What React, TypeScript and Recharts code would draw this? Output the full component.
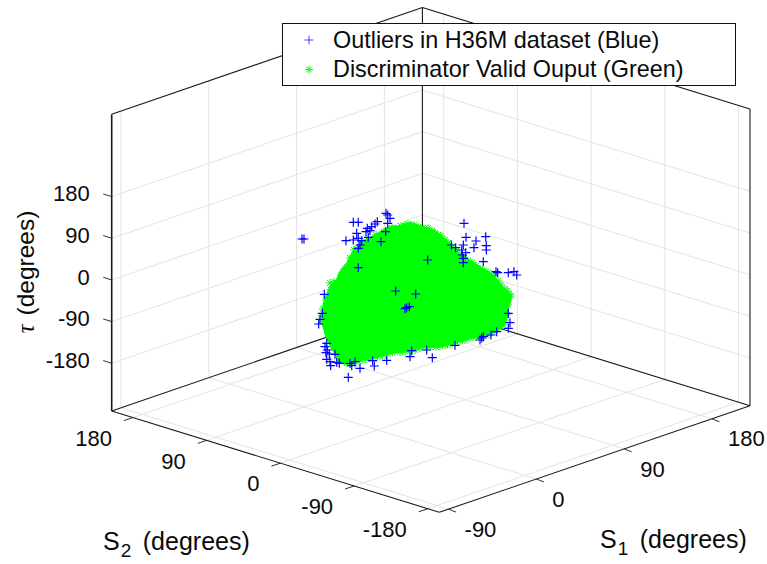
import React from 'react';
import { ComposedChart, Area, Line, Scatter, XAxis, YAxis, ReferenceDot, Legend } from 'recharts';

const WIDTH = 767;
const HEIGHT = 564;

// axis limits and ticks of the 3D box (degrees)
const s1Limits = [-99.5, 219];
const s2Limits = [-194, 206];
const tauLimits = [-283, 358];
const s1Ticks = [-90, 0, 90, 180];
const s2Ticks = [-180, -90, 0, 90, 180];
const tauTicks = [-180, -90, 0, 90, 180];

// the marks can only be read in the plane of the view, so they are kept as [across, down]
const outliers: number[][] = [
    [302, 239], [304, 239], [353.3, 222.3], [358.3, 222.3], [386, 213.3], [387.7, 215], [390, 218.3], [387.7, 223.3],
    [377.3, 221.7], [375, 224], [367.3, 228.3], [371.7, 226.7], [370, 230.7], [366, 231.7], [385.7, 231.7], [356.7, 233.3],
    [346, 240.7], [353.3, 240], [358.3, 238.3], [361.7, 240.7], [360, 245], [358.3, 248.3], [368.3, 237.3], [381, 241.7],
    [358.3, 267.7], [464, 223.3], [466, 237.3], [485.7, 236.7], [476, 241], [474, 247.7], [486.3, 245.7], [486.3, 250],
    [451.3, 245], [455.7, 247.7], [463.3, 245], [461.7, 250], [465.7, 252.7], [462.3, 255], [463.3, 258.3], [463.3, 262.7],
    [483.3, 261.7], [496, 271.7], [497.7, 272.7], [508.3, 272.7], [514, 271.7], [516.7, 275], [427.7, 260], [395.7, 291],
    [415.7, 294], [406.7, 307.7], [409.3, 306.7], [405, 308.7], [324.3, 294.3], [322.3, 313.3], [320, 319.3], [318.7, 324],
    [326.7, 343.3], [325, 346.7], [327.3, 350], [326, 352.7], [329.3, 354], [335, 354.3], [326.7, 359.3], [330, 361.7],
    [336.7, 362.3], [330.7, 365.7], [339.3, 363.3], [350, 363.3], [355, 361.7], [351.7, 365.7], [360, 368.3], [348.3, 377.3],
    [372.7, 360.7], [374.3, 366], [386.7, 360.3], [411.7, 350.7], [410, 356.7], [426.7, 350], [432.3, 357.7], [455, 345.3],
    [480, 340], [483.3, 336.7], [481.7, 338], [491, 335], [496.7, 331.7], [508.3, 328.3], [510, 322.7], [508.3, 313.3],
];

// body of the green cloud: [across, upper edge, lower edge]
const cloudBody: number[][] = [
    [322, 307, 325], [325, 297, 336], [330, 285, 347], [335, 281, 355], [340, 271, 363], [346, 263, 365], [352, 252, 364],
    [360, 243, 361], [370, 237, 360], [380, 231, 357], [390, 226, 354], [400, 225, 353], [410, 222, 352], [423, 226, 348],
    [435, 230, 348], [447, 240, 346], [460, 253, 342], [475, 263, 338], [487, 270, 336], [497, 280, 332], [505, 288, 325],
    [510, 293, 305], [512, 296, 298],
];

// green stars that make the rough rim of the cloud
const cloudRim: number[][] = [
    [323, 309], [322, 316], [323, 322], [326, 300], [328, 333], [331, 290], [333, 343], [337, 283], [338, 352], [341, 275],
    [344, 361], [345, 268], [350, 362], [350, 258], [358, 361], [357, 249], [366, 359], [364, 243], [375, 357], [372, 240],
    [385, 355], [380, 236], [395, 352], [388, 231], [405, 351], [397, 229], [415, 350], [405, 226], [425, 347], [411, 225],
    [436, 347], [418, 227], [445, 345], [424, 229], [455, 342], [432, 231], [465, 340], [438, 235], [476, 337], [445, 240],
    [486, 335], [452, 247], [495, 330], [460, 255], [503, 325], [468, 261], [507, 315], [476, 266], [508, 305], [484, 271],
    [492, 275], [498, 281], [505, 289], [509, 294], [330, 283], [334, 282], [343, 272], [354, 250], [361, 244], [368, 240],
    [376, 235], [384, 232], [392, 228], [401, 226], [408, 224], [414, 225], [421, 228], [428, 228], [435, 233], [441, 236],
    [448, 243], [456, 251], [464, 258], [472, 263], [480, 269], [488, 273], [494, 276], [501, 285], [507, 291], [511, 296],
    [340, 360], [347, 363], [354, 361], [362, 360], [370, 358], [380, 356], [390, 353], [400, 352], [410, 351], [420, 348],
    [430, 347], [440, 346], [450, 344], [460, 341], [470, 338], [481, 336], [490, 333], [499, 327], [505, 320],
];

const legendLabels = ['Outliers in H36M dataset (Blue)', 'Discriminator Valid Ouput (Green)'];

const FONT = '"Liberation Sans", Arial, sans-serif';
const TEXT = '#0a0a0a';
const GRID = '#e3e3e3';
const EDGE = '#1a1a1a';
const BLUE = '#0000ff';
const GREEN = '#00ff00';

// orthographic view of the box, read from its corners
const project = (s1: number, s2: number, tau: number) => ({
    x: 439.3 + (s1 - s1Limits[0]) * 0.9755 - (s2 - s2Limits[0]) * 0.819,
    y: 512.3 - (s1 - s1Limits[0]) * 0.3347 - (s2 - s2Limits[0]) * 0.2533 - (tau - tauLimits[0]) * 0.463,
});

const [s1Lo, s1Hi] = s1Limits;
const [s2Lo, s2Hi] = s2Limits;
const [tauLo, tauHi] = tauLimits;

const gridSegments = [
    ...s1Ticks.flatMap((s) => [
        [project(s, s2Lo, tauLo), project(s, s2Hi, tauLo)],
        [project(s, s2Hi, tauLo), project(s, s2Hi, tauHi)],
    ]),
    ...s2Ticks.flatMap((s) => [
        [project(s1Lo, s, tauLo), project(s1Hi, s, tauLo)],
        [project(s1Hi, s, tauLo), project(s1Hi, s, tauHi)],
    ]),
    ...tauTicks.flatMap((t) => [
        [project(s1Lo, s2Hi, t), project(s1Hi, s2Hi, t)],
        [project(s1Hi, s2Hi, t), project(s1Hi, s2Lo, t)],
    ]),
];

const edgeSegments = [
    [project(s1Lo, s2Hi, tauLo), project(s1Lo, s2Lo, tauLo)],
    [project(s1Lo, s2Lo, tauLo), project(s1Hi, s2Lo, tauLo)],
    [project(s1Lo, s2Hi, tauLo), project(s1Hi, s2Hi, tauLo)],
    [project(s1Hi, s2Hi, tauLo), project(s1Hi, s2Lo, tauLo)],
    [project(s1Lo, s2Hi, tauLo), project(s1Lo, s2Hi, tauHi)],
    [project(s1Hi, s2Hi, tauLo), project(s1Hi, s2Hi, tauHi)],
    [project(s1Hi, s2Lo, tauLo), project(s1Hi, s2Lo, tauHi)],
    [project(s1Lo, s2Hi, tauHi), project(s1Hi, s2Hi, tauHi)],
    [project(s1Hi, s2Hi, tauHi), project(s1Hi, s2Lo, tauHi)],
];

const offset = (p: { x: number; y: number }, dx: number, dy: number) => ({ x: p.x + dx, y: p.y + dy });

const tickSegments = [
    ...s1Ticks.map((s) => [project(s, s2Lo, tauLo), offset(project(s, s2Lo, tauLo), 7.5, 3)]),
    ...s2Ticks.map((s) => [project(s1Lo, s, tauLo), offset(project(s1Lo, s, tauLo), -9, 3)]),
    ...tauTicks.map((t) => [project(s1Lo, s2Hi, t), offset(project(s1Lo, s2Hi, t), -8.5, -2.7)]),
];

const tickLabels = [
    ...s1Ticks.map((s) => ({ value: s, at: offset(project(s, s2Lo, tauLo), 16, 20), anchor: 'start' })),
    ...s2Ticks.map((s) => ({ value: s, at: offset(project(s1Lo, s, tauLo), -21, 20.5), anchor: 'end' })),
    ...tauTicks.map((t) => ({ value: t, at: offset(project(s1Lo, s2Hi, t), -22, -3), anchor: 'end' })),
];

const chartRows = cloudBody.map(([x, top, bottom]) => ({ x, range: [top, bottom] }));
const toPoints = (list: number[][]) => list.map(([x, y]) => ({ x, y }));

const PlusMark = ({ cx, cy }: any) => (
    <path d={`M${cx - 4.5} ${cy}H${cx + 4.5}M${cx} ${cy - 4.5}V${cy + 4.5}`} stroke={BLUE} strokeWidth={1.2} fill="none" />
);

const StarMark = ({ cx, cy }: any) => (
    <path
        d={`M${cx - 4} ${cy}H${cx + 4}M${cx} ${cy - 4}V${cy + 4}M${cx - 3} ${cy - 3}L${cx + 3} ${cy + 3}M${cx - 3} ${cy + 3}L${cx + 3} ${cy - 3}`}
        stroke={GREEN}
        strokeWidth={1}
        fill="none"
    />
);

const LegendBox = () => (
    <div style={{ width: 452, height: 61, border: '1px solid #111', background: '#fff', position: 'relative', fontFamily: FONT, fontSize: 23.4, color: TEXT }}>
        {legendLabels.map((label, i) => (
            <div key={label} style={{ position: 'absolute', left: 50, top: 3 + i * 29.3, lineHeight: '27px', whiteSpace: 'nowrap' }}>
                {label}
            </div>
        ))}
        <svg width={40} height={61} style={{ position: 'absolute', left: 0, top: 0 }}>
            <path d="M21.5 16H30.5M26 11.5V20.5" stroke={BLUE} strokeOpacity={0.7} fill="none" />
            <path d="M22 45.5H30M26 41.5V49.5M23 42.5L29 48.5M23 48.5L29 42.5" stroke={GREEN} fill="none" />
        </svg>
    </div>
);

const AxisTitle = ({ cx, cy, sub }: any) => (
    <text x={cx} y={cy} fontFamily={FONT} fontSize={25} fill={TEXT}>
        S
        <tspan dy={7} fontSize={19} dx={1}>{sub}</tspan>
        <tspan dy={-7} dx={11.5}>(degrees)</tspan>
    </text>
);

const layer: React.CSSProperties = { position: 'absolute', left: 0, top: 0 };
const noMargin = { top: 0, right: 0, bottom: 0, left: 0 };

const App = () => (
    <div style={{ ...layer, width: WIDTH, height: HEIGHT }}>
        {/* box behind the cloud: two charts stacked, since areas are drawn under lines */}
        <div style={layer}>
            <ComposedChart width={WIDTH} height={HEIGHT} data={chartRows} margin={noMargin}>
                <XAxis dataKey="x" type="number" domain={[0, WIDTH]} hide />
                <YAxis type="number" domain={[0, HEIGHT]} reversed hide />
                {gridSegments.map((seg, i) => (
                    <Line key={`grid-${i}`} data={seg} dataKey="y" stroke={GRID} strokeWidth={1} dot={false} activeDot={false} isAnimationActive={false} />
                ))}
                {edgeSegments.map((seg, i) => (
                    <Line key={`edge-${i}`} data={seg} dataKey="y" stroke={EDGE} strokeWidth={i === 4 ? 1.6 : 1.1} dot={false} activeDot={false} isAnimationActive={false} />
                ))}
                {tickSegments.map((seg, i) => (
                    <Line key={`tick-${i}`} data={seg} dataKey="y" stroke={EDGE} strokeWidth={0.9} dot={false} activeDot={false} isAnimationActive={false} />
                ))}
            </ComposedChart>
        </div>
        <div style={layer}>
            <ComposedChart width={WIDTH} height={HEIGHT} data={chartRows} margin={noMargin}>
                <XAxis dataKey="x" type="number" domain={[0, WIDTH]} hide />
                <YAxis type="number" domain={[0, HEIGHT]} reversed hide />
                <Area dataKey="range" type="linear" stroke="none" fill={GREEN} fillOpacity={1} dot={false} activeDot={false} isAnimationActive={false} />
                <Scatter data={toPoints(cloudRim)} dataKey="y" shape={StarMark} isAnimationActive={false} />
                <Scatter data={toPoints(outliers)} dataKey="y" shape={PlusMark} isAnimationActive={false} />
                {tickLabels.map((t, i) => (
                    <ReferenceDot
                        key={`label-${i}`}
                        x={t.at.x}
                        y={t.at.y}
                        r={0}
                        ifOverflow="visible"
                        shape={({ cx, cy }: any) => (
                            <text x={cx} y={cy} dy="0.35em" textAnchor={t.anchor as any} fontFamily={FONT} fontSize={22} fill={TEXT}>
                                {t.value}
                            </text>
                        )}
                    />
                ))}
                <ReferenceDot x={103} y={550} r={0} ifOverflow="visible" shape={(p: any) => <AxisTitle {...p} sub="2" />} />
                <ReferenceDot x={600} y={548} r={0} ifOverflow="visible" shape={(p: any) => <AxisTitle {...p} sub="1" />} />
                <ReferenceDot
                    x={34}
                    y={272}
                    r={0}
                    ifOverflow="visible"
                    shape={({ cx, cy }: any) => (
                        <text x={cx} y={cy} transform={`rotate(-90 ${cx} ${cy})`} textAnchor="middle" fontFamily={FONT} fontSize={24.5} fill={TEXT}>
                            <tspan fontFamily='"Liberation Serif", serif' fontStyle="italic">τ</tspan>
                            <tspan dx={9}>(degrees)</tspan>
                        </text>
                    )}
                />
                <Legend
                    layout="horizontal"
                    align="center"
                    verticalAlign="middle"
                    content={LegendBox}
                    wrapperStyle={{ left: 282, top: 23, width: 454, height: 63, margin: 0 }}
                />
            </ComposedChart>
        </div>
    </div>
);

export default App;
